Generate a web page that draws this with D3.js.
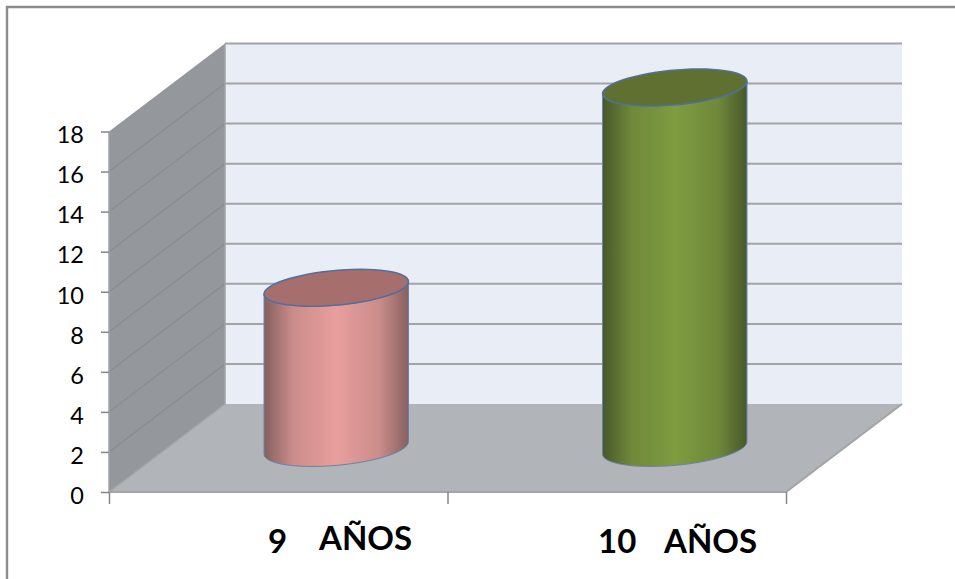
<!DOCTYPE html>
<html>
<head>
<meta charset="utf-8">
<script src="https://cdn.jsdelivr.net/npm/d3@7"></script>
<style>
  html, body { margin: 0; padding: 0; background: #fff; }
  svg { display: block; }
  text { font-family: Lato, "Open Sans", sans-serif; fill: #000; }
</style>
</head>
<body>
<div id="chart"></div>
<script>
var ages = ['9', '10'];
var unitLabel = 'AÑOS';
var values = [8, 18];
var yTicks = [0, 2, 4, 6, 8, 10, 12, 14, 16, 18];
var topColors = ['#a66f6d', '#5f7030'];
var midColors = ['#e89f9d', '#7f9c41'];
var edgeColors = ['#85605f', '#48582a'];

var width = 955, height = 579;
var front = {left: 109, right: 786, bottom: 492, top: 131.5};
var depth = {dx: 116, dy: -88};

var svg = d3.select('#chart').append('svg')
    .attr('width', width)
    .attr('height', height);
var defs = svg.append('defs');

// outer frame, open on the right and bottom
svg.append('path')
    .attr('d', 'M7,' + height + 'V7H' + width)
    .attr('fill', 'none')
    .attr('stroke', '#8c8c8c')
    .attr('stroke-width', 2.4);

var yScale = d3.scaleLinear().domain([0, 18]).range([front.bottom, front.top]);
var xScale = d3.scaleBand().domain(ages).range([front.left, front.right]);

// point on the 3d box: x and y in front plane pixels, d from 0 (front) to 1 (back)
function project(x, y, d) {
    return [x + d * depth.dx, y + d * depth.dy];
}
var poly = d3.line();

// Walls and floor
var y0 = yScale(0), y18 = yScale(18);
svg.append('path')
    .attr('d', poly([project(front.left, y18, 1), project(front.right, y18, 1), project(front.right, y0, 1), project(front.left, y0, 1)]) + 'Z')
    .attr('fill', '#e8edf6');
svg.append('path')
    .attr('d', poly([project(front.left, y18, 0), project(front.left, y18, 1), project(front.left, y0, 1), project(front.left, y0, 0)]) + 'Z')
    .attr('fill', '#94979b');
svg.append('path')
    .attr('d', poly([project(front.left, y0, 0), project(front.right, y0, 0), project(front.right, y0, 1), project(front.left, y0, 1)]) + 'Z')
    .attr('fill', '#b1b4b8');

// Gridlines, back wall then side wall
svg.append('g').selectAll('line.back')
    .data(yTicks.filter(function(d) { return d > 0; }))
    .enter().append('line')
    .attr('class', 'back')
    .attr('x1', front.left + depth.dx)
    .attr('x2', front.right + depth.dx)
    .attr('y1', function(d) { return yScale(d) + depth.dy; })
    .attr('y2', function(d) { return yScale(d) + depth.dy; })
    .attr('stroke', '#a3a4a6')
    .attr('stroke-width', 2);

svg.append('g').selectAll('line.side')
    .data(yTicks.filter(function(d) { return d > 0 && d < 18; }))
    .enter().append('line')
    .attr('class', 'side')
    .attr('x1', front.left)
    .attr('x2', front.left + depth.dx)
    .attr('y1', function(d) { return yScale(d); })
    .attr('y2', function(d) { return yScale(d) + depth.dy; })
    .attr('stroke', '#898c8f')
    .attr('stroke-width', 1.2);

// Edges of the box
svg.append('path')
    .attr('d', poly([project(front.left, y0, 0), project(front.right, y0, 0), project(front.right, y0, 1)]))
    .attr('fill', 'none')
    .attr('stroke', '#a3a4a6')
    .attr('stroke-width', 2);
svg.append('path')
    .attr('d', poly([project(front.left, y18, 0), project(front.left, y0, 0), project(front.left, y0, 1), project(front.left, y18, 1)]))
    .attr('fill', 'none')
    .attr('stroke', '#a3a4a6')
    .attr('stroke-width', 1.5);

// Axes
var yAxis = d3.axisLeft(yScale).tickValues(yTicks).tickSize(8).tickPadding(17).tickFormat(d3.format('d'));
var yG = svg.append('g').attr('transform', 'translate(' + front.left + ',0)').call(yAxis);
yG.select('.domain').remove();
yG.selectAll('line').attr('stroke', '#868686').attr('stroke-width', 1.5);
yG.selectAll('text').attr('font-size', 23.5).attr('dy', '0.48em').style('font-family', 'Lato');

var xTickScale = d3.scaleLinear().domain([0, ages.length]).range([front.left, front.right]);
var xAxis = d3.axisBottom(xTickScale).tickValues(d3.range(ages.length + 1)).tickSize(12).tickFormat('');
var xG = svg.append('g').attr('transform', 'translate(0,' + front.bottom + ')').call(xAxis);
xG.select('.domain').remove();
xG.selectAll('line').attr('stroke', '#868686').attr('stroke-width', 1.5);

// Cylinders stand half way into the box
var radiusX = 68, radiusDepth = 0.21;
var ellipsePoints = d3.range(0, 361, 6).map(function(a) { return a * Math.PI / 180; });

function ellipsePoint(cx, cy, t) {
    return [cx + radiusX * Math.cos(t) + radiusDepth * depth.dx * Math.sin(t),
            cy + radiusDepth * depth.dy * Math.sin(t)];
}
// angle of the right hand silhouette point
var tRight = Math.atan2(radiusDepth * depth.dx, radiusX);

var bars = svg.append('g').selectAll('g')
    .data(ages)
    .enter().append('g');

bars.each(function(age, i) {
    var g = d3.select(this);
    var cx = xScale(age) + xScale.bandwidth() / 2 + depth.dx / 2;
    var cyBase = y0 + depth.dy / 2;
    var cyTop = yScale(values[i]) + depth.dy / 2;
    var halfW = Math.sqrt(radiusX * radiusX + Math.pow(radiusDepth * depth.dx, 2));

    var grad = defs.append('linearGradient')
        .attr('id', 'side' + i)
        .attr('gradientUnits', 'userSpaceOnUse')
        .attr('x1', cx - halfW).attr('x2', cx + halfW)
        .attr('y1', 0).attr('y2', 0);
    grad.selectAll('stop')
        .data([[0, edgeColors[i]], [0.2, d3.interpolateRgb(edgeColors[i], midColors[i])(0.7)], [0.5, midColors[i]], [0.8, d3.interpolateRgb(edgeColors[i], midColors[i])(0.7)], [1, edgeColors[i]]])
        .enter().append('stop')
        .attr('offset', function(d) { return d[0]; })
        .attr('stop-color', function(d) { return d[1]; });

    // side: left silhouette down, around the near half of the base, back up on the right
    var nearBase = d3.range(0, 181, 6).map(function(a) {
        return ellipsePoint(cx, cyBase, tRight + Math.PI + a * Math.PI / 180);
    });
    var nearTop = nearBase.map(function(p) { return [p[0], p[1] - (cyBase - cyTop)]; }).reverse();
    g.append('path')
        .attr('d', poly(nearBase.concat(nearTop)) + 'Z')
        .attr('fill', 'url(#side' + i + ')')
        .attr('stroke', '#6a83a8')
        .attr('stroke-width', 1);

    g.append('path')
        .attr('d', poly(ellipsePoints.map(function(t) { return ellipsePoint(cx, cyTop, t); })) + 'Z')
        .attr('fill', topColors[i])
        .attr('stroke', '#4f6f9e')
        .attr('stroke-width', 1.5);
});

// Category labels
var ageX = [268, 598], ageY = [553, 553];
var unitX = [319, 664], unitY = [550, 553];
var labels = svg.append('g').attr('font-size', 33).attr('font-weight', 700);
labels.selectAll('text.age')
    .data(ages)
    .enter().append('text')
    .attr('class', 'age')
    .attr('x', function(d, i) { return ageX[i]; })
    .attr('y', function(d, i) { return ageY[i]; })
    .text(function(d) { return d; });
labels.selectAll('text.unit')
    .data(ages)
    .enter().append('text')
    .attr('class', 'unit')
    .attr('x', function(d, i) { return unitX[i]; })
    .attr('y', function(d, i) { return unitY[i]; })
    .text(unitLabel);
</script>
</body>
</html>
